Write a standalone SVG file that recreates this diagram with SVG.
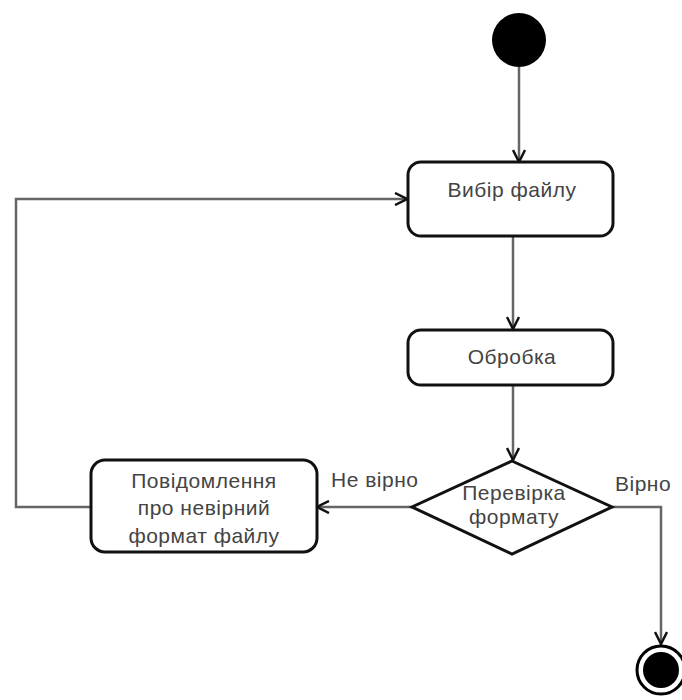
<svg xmlns="http://www.w3.org/2000/svg" width="682" height="700" viewBox="0 0 682 700">
<style>
.node{fill:#fff;stroke:#111;stroke-width:3}
.conn{fill:none;stroke:#666;stroke-width:2.5}
.t{font-family:"Liberation Sans",Arial,sans-serif;font-size:21px;letter-spacing:0.5px;fill:#444;text-anchor:middle}
.lbl{font-family:"Liberation Sans",Arial,sans-serif;font-size:21px;letter-spacing:0.5px;fill:#444}
</style>
<defs>
<marker id="ah" viewBox="0 0 14 14" refX="13" refY="7" markerWidth="14" markerHeight="14" markerUnits="userSpaceOnUse" orient="auto">
<path d="M1,1 L13,7 L1,13" fill="none" stroke="#111" stroke-width="2.5"/>
</marker>
</defs>
<rect width="682" height="700" fill="#fff"/>
<g id="connectors">
<line class="conn" x1="519" y1="67" x2="519" y2="162" marker-end="url(#ah)"/>
<line class="conn" x1="513" y1="236" x2="513" y2="329" marker-end="url(#ah)"/>
<line class="conn" x1="513" y1="385" x2="513" y2="460" marker-end="url(#ah)"/>
<line class="conn" x1="412" y1="507" x2="317" y2="507" marker-end="url(#ah)"/>
<polyline class="conn" points="91,507 16,507 16,199 407,199" marker-end="url(#ah)"/>
<polyline class="conn" points="612,507 661,507 661,644" marker-end="url(#ah)"/>
<text class="lbl" x="331" y="487">Не вірно</text>
<text class="lbl" x="615" y="491">Вірно</text>
</g>
<g id="start"><circle cx="519" cy="40" r="27" fill="#000"/></g>
<g id="vybir"><rect class="node" x="408" y="162" width="205" height="74" rx="13"/><text class="t" x="512" y="197">Вибір файлу</text></g>
<g id="obrobka"><rect class="node" x="408" y="330" width="205" height="55" rx="13"/><text class="t" x="512" y="364">Обробка</text></g>
<g id="perevirka"><polygon class="node" points="512,461 612,507 512,554 412,507"/><text class="t" x="514" y="500">Перевірка</text><text class="t" x="514" y="524">формату</text></g>
<g id="povidomlennia"><rect class="node" x="91" y="460" width="226" height="92" rx="14"/><text class="t" x="204" y="488">Повідомлення</text><text class="t" x="204" y="515">про невірний</text><text class="t" x="204" y="543">формат файлу</text></g>
<g id="end"><circle cx="661" cy="670" r="24" fill="#fff" stroke="#000" stroke-width="3"/><circle cx="661" cy="670" r="18" fill="#000"/></g>
</svg>
